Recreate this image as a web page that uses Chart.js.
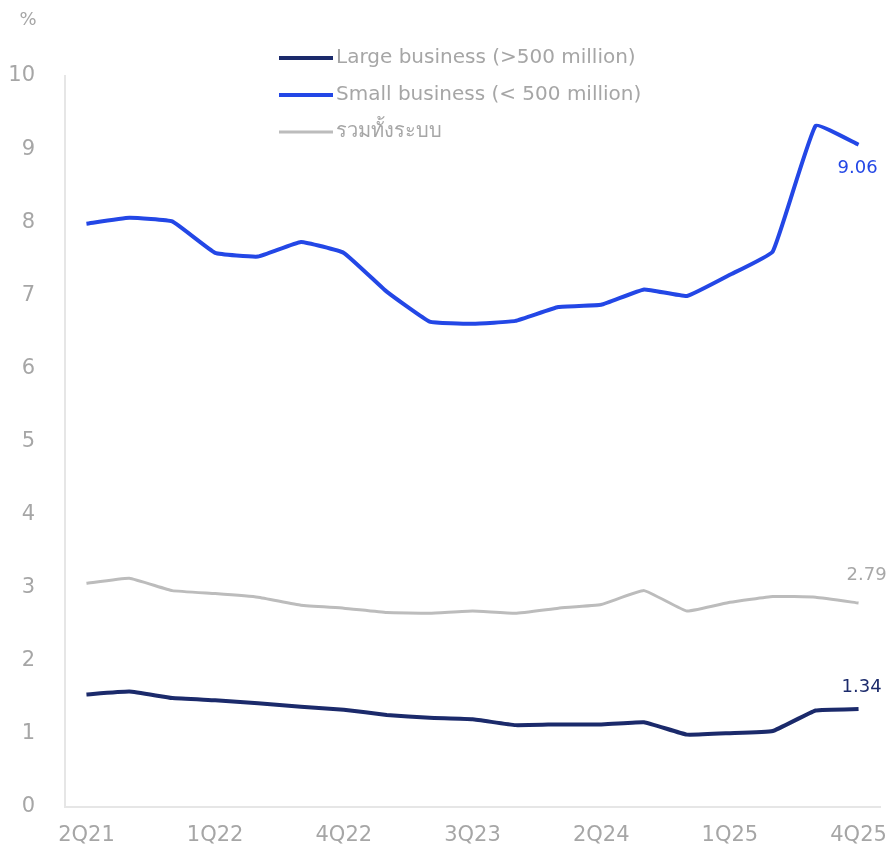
<!DOCTYPE html>
<html>
<head>
<meta charset="utf-8">
<script src="https://cdn.jsdelivr.net/npm/chart.js@4.4.1/dist/chart.umd.min.js"></script>
<style>
  html, body { margin: 0; padding: 0; background: #fff; }
  #wrap { width: 892px; height: 859px; position: relative; }
</style>
</head>
<body>
<div id="wrap"><canvas id="chart"></canvas></div>
<script>
// Quarters along the x axis
const quarters = ["2Q21", "3Q21", "4Q21", "1Q22", "2Q22", "3Q22", "4Q22", "1Q23", "2Q23", "3Q23",
  "4Q23", "1Q24", "2Q24", "3Q24", "4Q24", "1Q25", "2Q25", "3Q25", "4Q25"];

// NPL ratio (%)
const largeBiz = [1.54, 1.58, 1.49, 1.46, 1.42, 1.37, 1.33, 1.26, 1.22, 1.20,
  1.12, 1.13, 1.13, 1.16, 0.99, 1.01, 1.04, 1.32, 1.34];
const smallBiz = [7.98, 8.06, 8.01, 7.58, 7.53, 7.73, 7.58, 7.05, 6.64, 6.61,
  6.65, 6.84, 6.87, 7.08, 6.99, 7.28, 7.60, 9.32, 9.06];
const wholeSystem = [3.06, 3.13, 2.96, 2.92, 2.87, 2.76, 2.72, 2.66, 2.65, 2.68,
  2.65, 2.72, 2.77, 2.96, 2.68, 2.80, 2.88, 2.87, 2.79];

const seriesNames = ["Large business (>500 million)", "Small business (< 500 million)", "รวมทั้งระบบ"];
const seriesColors = ["#1b2a6b", "#2347e6", "#bcbcbc"];
const lineWidths = [4, 4, 3];

const yTicks = [0, 1, 2, 3, 4, 5, 6, 7, 8, 9, 10];

const fontFace = "'DejaVu Sans', 'Noto Sans', sans-serif";
const textGray = "#a6a6a6";

// legend, % unit and last-value labels
const extras = {
  id: "extras",
  afterDraw(chart) {
    const ctx = chart.ctx;
    ctx.save();
    // unit
    ctx.fillStyle = textGray;
    ctx.font = "18px " + fontFace;
    ctx.textAlign = "center";
    ctx.textBaseline = "middle";
    ctx.fillText("%", 28, 20);

    // vertical legend
    const rows = [58, 95, 132];
    ctx.textAlign = "left";
    ctx.font = "20px " + fontFace;
    seriesNames.forEach((name, i) => {
      ctx.strokeStyle = seriesColors[i];
      ctx.lineWidth = lineWidths[i];
      ctx.beginPath();
      ctx.moveTo(279, rows[i]);
      ctx.lineTo(333, rows[i]);
      ctx.stroke();
      ctx.fillStyle = textGray;
      ctx.fillText(name, 336, rows[i]);
    });

    // last values
    const xs = chart.scales.x, ys = chart.scales.y;
    const last = quarters.length - 1;
    const x = xs.getPixelForValue(last);
    ctx.font = "18px " + fontFace;
    ctx.textAlign = "center";
    const ends = [
      { v: largeBiz[last], dx: 3, dy: -22, c: seriesColors[0] },
      { v: smallBiz[last], dx: -1, dy: 24, c: seriesColors[1] },
      { v: wholeSystem[last], dx: 8, dy: -28, c: "#a8a8a8" },
    ];
    ends.forEach(e => {
      ctx.fillStyle = e.c;
      ctx.fillText(e.v.toFixed(2), x + e.dx, ys.getPixelForValue(e.v) + e.dy);
    });
    ctx.restore();
  }
};

new Chart(document.getElementById("chart"), {
  type: "line",
  plugins: [extras],
  data: {
    labels: quarters,
    datasets: [
      { label: seriesNames[0], data: largeBiz },
      { label: seriesNames[1], data: smallBiz },
      { label: seriesNames[2], data: wholeSystem },
    ].map((d, i) => Object.assign(d, {
      borderColor: seriesColors[i],
      backgroundColor: seriesColors[i],
      borderWidth: lineWidths[i],
      pointRadius: 0,
      tension: 0.1,
      fill: false,
    })),
  },
  options: {
    responsive: true,
    maintainAspectRatio: false,
    animation: false,
    layout: { padding: { top: 76, right: 12, left: 0, bottom: 0 } },
    plugins: {
      legend: { display: false },
      tooltip: { enabled: false },
    },
    scales: {
      x: {
        offset: true,
        grid: { display: false, drawTicks: false },
        border: { color: "#e6e6e6", width: 2 },
        afterFit: (s) => { s.height = 52; s.paddingLeft = 0; s.paddingRight = 0; },
        ticks: {
          autoSkip: false,
          maxRotation: 0,
          padding: 16,
          color: textGray,
          font: { family: fontFace, size: 21 },
          callback: (v, i) => (i % 3 === 0 ? quarters[i] : ""),
        },
      },
      y: {
        min: 0,
        max: 10,
        afterBuildTicks: (s) => { s.ticks = yTicks.map(v => ({ value: v })); },
        afterFit: (s) => { s.width = 65; s.paddingTop = 0; s.paddingBottom = 0; },
        grid: { display: false, drawTicks: false },
        border: { color: "#e6e6e6", width: 2 },
        ticks: {
          padding: 30,
          color: textGray,
          font: { family: fontFace, size: 21 },
        },
      },
    },
  },
});
</script>
</body>
</html>
